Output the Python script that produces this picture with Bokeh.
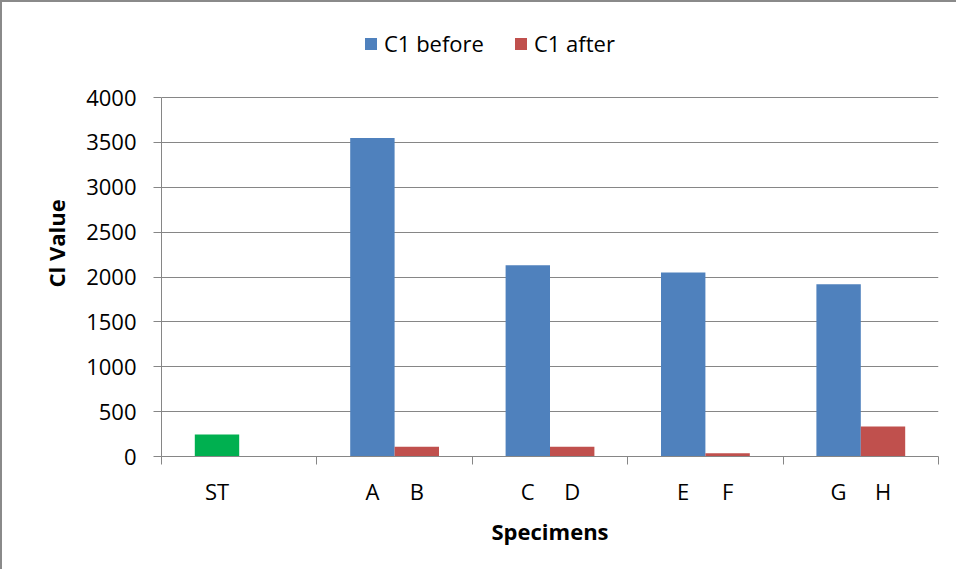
from bokeh.plotting import figure
from bokeh.models import FixedTicker, Legend, LegendItem, ColumnDataSource, Range1d
from bokeh.transform import dodge
from bokeh.embed import file_html
from bokeh.resources import INLINE

# ---- data ----
groups = ["ST", "A B", "C D", "E F", "G H"]
before_names = ["ST", "A", "C", "E", "G"]
after_names = ["", "B", "D", "F", "H"]
before_values = [245, 3550, 2130, 2050, 1920]
after_values = [0, 110, 110, 35, 335]
before_colors = ["#00B050", "#4F81BD", "#4F81BD", "#4F81BD", "#4F81BD"]
after_color = "#C0504D"
series_names = ["C1 before", "C1 after"]
y_ticks = [0, 500, 1000, 1500, 2000, 2500, 3000, 3500, 4000]

FONT = "Open Sans"
GRAY = "#868686"
bw = 2 / 7  # Excel gap width 150%

# frame extends above the value axis so the legend can sit inside it
AXIS_PX = 359      # pixel height of 0..4000
FRAME_PX = 432     # full frame height (includes legend strip)
y_top = y_ticks[-1] * FRAME_PX / AXIS_PX

centers = [i + 0.5 for i in range(len(groups))]
src = ColumnDataSource(dict(x=centers, before=before_values, after=after_values,
                            color=before_colors))

p = figure(width=956, height=569, output_backend="svg", toolbar_location=None,
           x_range=Range1d(0, len(groups)), y_range=Range1d(0, y_top),
           min_border_left=159, min_border_right=20, min_border_top=22,
           min_border_bottom=115)
p.styles = {"border-left": "2px solid #8a8a8a", "border-top": "2px solid #8a8a8a"}
p.outline_line_color = None
p.background_fill_color = "white"
p.border_fill_color = "white"

r1 = p.vbar(x=dodge("x", -bw / 2), top="before", width=bw, fill_color="color",
            line_color=None, source=src)
r2 = p.vbar(x=dodge("x", bw / 2), top="after", width=bw, fill_color=after_color,
            line_color=None, source=src)

# x axis: labels at bar centres, small ticks at category boundaries
label_pos = []
overrides = {}
for c, bn, an in zip(centers, before_names, after_names):
    pb = round(c - bw / 2, 6)
    label_pos.append(pb)
    overrides[pb] = bn
    if an:
        pa = round(c + bw / 2, 6)
        label_pos.append(pa)
        overrides[pa] = an
xa = p.xaxis[0]
xa.ticker = FixedTicker(ticks=label_pos, minor_ticks=list(range(len(groups) + 1)))
xa.major_label_overrides = overrides
xa.major_tick_out = 0
xa.major_tick_in = 0
xa.minor_tick_out = 8
xa.minor_tick_in = 0
xa.minor_tick_line_color = GRAY
xa.axis_line_color = GRAY
xa.major_label_text_font = FONT
xa.major_label_text_font_size = "22px"
xa.major_label_text_color = "black"
xa.major_label_standoff = 11
xa.axis_label = "Specimens"
xa.axis_label_text_font = FONT
xa.axis_label_text_font_style = "bold"
xa.axis_label_text_font_size = "22px"
xa.axis_label_text_color = "black"
xa.axis_label_standoff = 7
p.xgrid.grid_line_color = None

ya = p.yaxis[0]
ya.ticker = FixedTicker(ticks=y_ticks, minor_ticks=[])
ya.bounds = (y_ticks[0], y_ticks[-1])
ya.major_tick_out = 8
ya.major_tick_in = 0
ya.major_tick_line_color = GRAY
ya.axis_line_color = GRAY
ya.major_label_text_font = FONT
ya.major_label_text_font_size = "22px"
ya.major_label_text_color = "black"
ya.major_label_standoff = 17
ya.axis_label = "Cl  Value"
ya.axis_label_text_font = FONT
ya.axis_label_text_font_style = "bold"
ya.axis_label_text_font_size = "22px"
ya.axis_label_text_color = "black"
ya.axis_label_standoff = 12
p.ygrid.grid_line_color = GRAY
p.ygrid.ticker = FixedTicker(ticks=y_ticks)

legend = Legend(items=[LegendItem(label=series_names[0], renderers=[r1], index=1),
                       LegendItem(label=series_names[1], renderers=[r2])],
                location=(202, 398), orientation="horizontal",
                glyph_width=15, glyph_height=15, label_standoff=6, spacing=29,
                padding=0, margin=0, border_line_color=None,
                background_fill_alpha=0, label_text_font=FONT,
                label_text_font_size="22px", label_text_color="black")
p.add_layout(legend)

open("out.html", "w").write(file_html(p, INLINE))
